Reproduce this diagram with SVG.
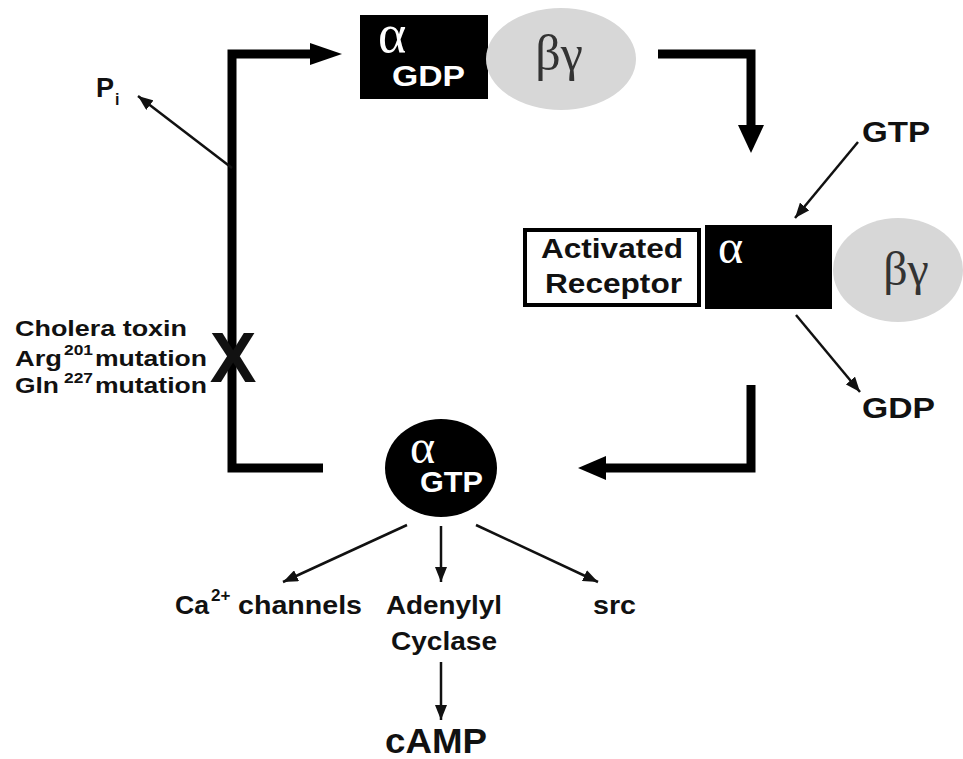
<svg xmlns="http://www.w3.org/2000/svg" width="963" height="759" viewBox="0 0 963 759">
<style>
.b{font-family:"Liberation Sans",Arial,sans-serif;font-weight:bold;fill:#111}
.w{font-family:"Liberation Sans",Arial,sans-serif;font-weight:bold;fill:#fff}
.g{font-family:"Liberation Serif","Times New Roman",serif}
.thick{fill:none;stroke:#000;stroke-width:9}
.thin{fill:none;stroke:#111;stroke-width:2.5;marker-end:url(#ah)}
.head{fill:#000}
</style>
<defs>
<marker id="ah" markerUnits="userSpaceOnUse" markerWidth="16" markerHeight="12" refX="15" refY="6" orient="auto">
<path d="M0,0 L15,6 L0,12 z" fill="#111"/>
</marker>
</defs>
<rect width="963" height="759" fill="#fff"/>
<g id="connectors">
<path class="thick" d="M323,468 H232 V54 H314"/>
<polygon class="head" points="310,43 342,54 310,65"/>
<path class="thick" d="M658,54 H751 V128"/>
<polygon class="head" points="738,125 764,125 751,153"/>
<path class="thick" d="M751,385 V468 H604"/>
<polygon class="head" points="606,456 606,480 578,468"/>
<line class="thin" x1="232" y1="168" x2="138" y2="96"/>
<line class="thin" x1="858" y1="142" x2="795" y2="218"/>
<line class="thin" x1="796" y1="315" x2="860" y2="392"/>
<line class="thin" x1="407" y1="525" x2="283" y2="582"/>
<line class="thin" x1="441" y1="526" x2="441" y2="582"/>
<line class="thin" x1="476" y1="525" x2="598" y2="582"/>
<line class="thin" x1="441" y1="662" x2="441" y2="720"/>
</g>
<g id="block-x">
<text class="b" x="233" y="382" font-size="70" text-anchor="middle" fill="#000">X</text>
</g>
<g id="gdp-complex">
<rect x="360" y="15" width="128" height="84" fill="#000"/>
<text class="g" x="378" y="52" font-size="54" fill="#fff">α</text>
<text class="w" x="392" y="86" font-size="29" textLength="73" lengthAdjust="spacingAndGlyphs">GDP</text>
</g>
<g id="bg-top">
<ellipse cx="561" cy="59" rx="75" ry="51" fill="#d7d7d7"/>
<text class="g" x="559" y="70" font-size="50" text-anchor="middle" fill="#333">βγ</text>
</g>
<g id="pi">
<text class="b" x="96" y="97" font-size="27">P</text>
<text class="b" x="115" y="105" font-size="16">i</text>
</g>
<g id="gtp-in">
<text class="b" x="862" y="142" font-size="29" textLength="68" lengthAdjust="spacingAndGlyphs">GTP</text>
</g>
<g id="receptor">
<rect x="525" y="230" width="174" height="75" fill="#fff" stroke="#000" stroke-width="4"/>
<text class="b" x="541" y="258" font-size="27" textLength="142" lengthAdjust="spacingAndGlyphs">Activated</text>
<text class="b" x="545" y="293" font-size="27" textLength="137" lengthAdjust="spacingAndGlyphs">Receptor</text>
</g>
<g id="alpha-active">
<rect x="705" y="225" width="127" height="84" fill="#000"/>
<text class="g" x="718" y="263" font-size="48" fill="#fff">α</text>
</g>
<g id="bg-right">
<ellipse cx="898" cy="270" rx="65" ry="52" fill="#d7d7d7"/>
<text class="g" x="906" y="285" font-size="48" text-anchor="middle" fill="#333">βγ</text>
</g>
<g id="gdp-out">
<text class="b" x="862" y="418" font-size="29" textLength="73" lengthAdjust="spacingAndGlyphs">GDP</text>
</g>
<g id="gtp-complex">
<ellipse cx="441" cy="468" rx="56" ry="49" fill="#000"/>
<text class="g" x="410" y="463" font-size="48" fill="#fff">α</text>
<text class="w" x="420" y="492" font-size="30" textLength="63" lengthAdjust="spacingAndGlyphs">GTP</text>
</g>
<g id="mutations">
<text class="b" x="15" y="336" font-size="22" textLength="172" lengthAdjust="spacingAndGlyphs">Cholera toxin</text>
<text class="b" x="15" y="366" font-size="22" textLength="47" lengthAdjust="spacingAndGlyphs">Arg</text>
<text class="b" x="64" y="355" font-size="15" textLength="29" lengthAdjust="spacingAndGlyphs">201</text>
<text class="b" x="95" y="366" font-size="22" textLength="112" lengthAdjust="spacingAndGlyphs">mutation</text>
<text class="b" x="15" y="393" font-size="22" textLength="44" lengthAdjust="spacingAndGlyphs">Gln</text>
<text class="b" x="64" y="383" font-size="15" textLength="29" lengthAdjust="spacingAndGlyphs">227</text>
<text class="b" x="95" y="393" font-size="22" textLength="112" lengthAdjust="spacingAndGlyphs">mutation</text>
</g>
<g id="ca-channels">
<text class="b" x="175" y="614" font-size="25" textLength="34" lengthAdjust="spacingAndGlyphs">Ca</text>
<text class="b" x="211" y="601" font-size="17">2+</text>
<text class="b" x="238" y="614" font-size="25" textLength="124" lengthAdjust="spacingAndGlyphs">channels</text>
</g>
<g id="adenylyl-cyclase">
<text class="b" x="444" y="614" font-size="25" text-anchor="middle" textLength="116" lengthAdjust="spacingAndGlyphs">Adenylyl</text>
<text class="b" x="444" y="650" font-size="25" text-anchor="middle" textLength="106" lengthAdjust="spacingAndGlyphs">Cyclase</text>
</g>
<g id="src">
<text class="b" x="593" y="614" font-size="25" textLength="43" lengthAdjust="spacingAndGlyphs">src</text>
</g>
<g id="camp">
<text class="b" x="385" y="753" font-size="35" textLength="102" lengthAdjust="spacingAndGlyphs">cAMP</text>
</g>
</svg>
